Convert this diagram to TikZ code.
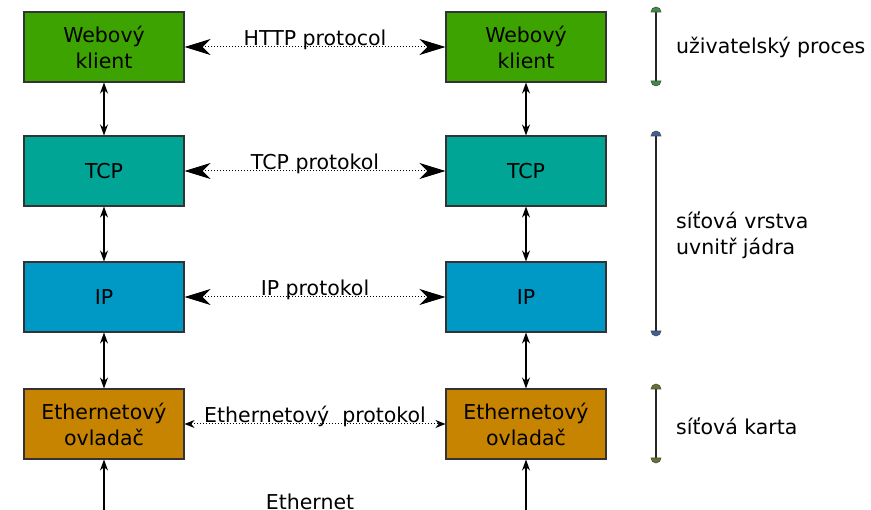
\documentclass[tikz,border=0pt]{standalone}
\usepackage{fontspec}
\setmainfont{DejaVu Sans}
\usetikzlibrary{arrows.meta}
\definecolor{webgreen}{HTML}{3DA300}
\definecolor{tcpteal}{HTML}{00A595}
\definecolor{ipblue}{HTML}{0099C6}
\definecolor{ethorange}{HTML}{C78400}
\definecolor{capgreen}{HTML}{3A8F45}
\definecolor{capblue}{HTML}{3F5F9F}
\definecolor{capolive}{HTML}{6E6E2C}
\begin{document}
\begin{tikzpicture}[x=1pt, y=-1pt,
    font=\fontsize{20.5}{26}\selectfont,
    layer/.style={draw=black!80, line width=1.1pt, minimum width=160pt, minimum height=70pt, align=center, inner sep=0pt},
    proto/.style={dotted, line width=1pt, {Stealth[length=26pt, width=16pt, inset=8pt]}-{Stealth[length=26pt, width=16pt, inset=8pt]}},
    smallproto/.style={dotted, line width=1pt, {Stealth[length=10pt, width=8pt]}-{Stealth[length=10pt, width=8pt]}},
    link/.style={line width=1.2pt, {Stealth[length=11pt, width=8pt]}-{Stealth[length=11pt, width=8pt]}},
    protolabel/.style={anchor=base, yshift=1.5pt, inner sep=0pt},
    span/.style={line width=1.5pt, black!85},
    spanlabel/.style={anchor=west, align=left, inner sep=0pt}]
  \useasboundingbox (0, 0) rectangle (871, 510);
  % left stack
  \node [layer, fill=webgreen] (web1) at (104, 47) {Webový\\klient};
  \node [layer, fill=tcpteal] (tcp1) at (104, 171) {TCP};
  \node [layer, fill=ipblue] (ip1) at (104, 297) {IP};
  \node [layer, fill=ethorange] (eth1) at (104, 424) {Ethernetový\\ovladač};
  % right stack
  \node [layer, fill=webgreen] (web2) at (526, 47) {Webový\\klient};
  \node [layer, fill=tcpteal] (tcp2) at (526, 171) {TCP};
  \node [layer, fill=ipblue] (ip2) at (526, 297) {IP};
  \node [layer, fill=ethorange] (eth2) at (526, 424) {Ethernetový\\ovladač};
  \coordinate (wire1) at (104, 560);
  \coordinate (wire2) at (526, 560);
  % protocols between peers
  \draw [proto] (web1) -- node [protolabel] {HTTP protocol} (web2);
  \draw [proto] (tcp1) -- node [protolabel] {TCP protokol} (tcp2);
  \draw [proto] (ip1) -- node [protolabel] {IP protokol} (ip2);
  \draw [smallproto] (eth1) -- node [protolabel] {Ethernetový\ \ protokol} (eth2);
  % links inside each stack
  \draw [link] (web1) -- (tcp1);
  \draw [link] (tcp1) -- (ip1);
  \draw [link] (ip1) -- (eth1);
  \draw [link] (eth1) -- (wire1);
  \draw [link] (web2) -- (tcp2);
  \draw [link] (tcp2) -- (ip2);
  \draw [link] (ip2) -- (eth2);
  \draw [link] (eth2) -- (wire2);
  \node [anchor=base, inner sep=0pt] (ether) at (310, 510) {Ethernet};
  % spans on the right
  \draw [span] (656, 12) -- (656, 81);
  \filldraw [fill=capgreen, draw=black!70, line width=0.6pt] (651, 12) arc (180:360:5) -- cycle;
  \filldraw [fill=capgreen, draw=black!70, line width=0.6pt] (651, 81) arc (180:0:5) -- cycle;
  \node [spanlabel] (user) at (676, 47) {uživatelský proces};
  \draw [span] (656, 136) -- (656, 331);
  \filldraw [fill=capblue, draw=black!70, line width=0.6pt] (651, 136) arc (180:360:5) -- cycle;
  \filldraw [fill=capblue, draw=black!70, line width=0.6pt] (651, 331) arc (180:0:5) -- cycle;
  \node [spanlabel] (kernel) at (676, 235) {síťová vrstva\\uvnitř jádra};
  \draw [span] (656, 389) -- (656, 458);
  \filldraw [fill=capolive, draw=black!70, line width=0.6pt] (651, 389) arc (180:360:5) -- cycle;
  \filldraw [fill=capolive, draw=black!70, line width=0.6pt] (651, 458) arc (180:0:5) -- cycle;
  \node [spanlabel] (card) at (676, 426) {síťová karta};
\end{tikzpicture}
\end{document}
